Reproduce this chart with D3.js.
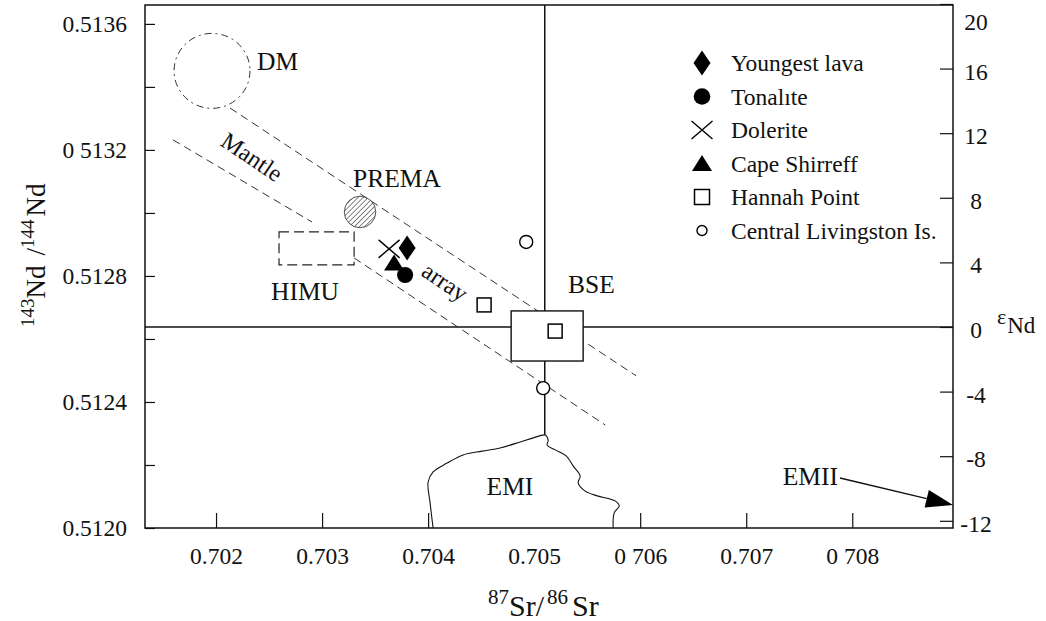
<!DOCTYPE html>
<html>
<head>
<meta charset="utf-8">
<script src="https://cdn.jsdelivr.net/npm/d3@7"></script>
<style>
  body { margin: 0; background: #fff; }
  svg, svg text { font-family: "Liberation Serif", "Times New Roman", "DejaVu Serif", serif; }
</style>
</head>
<body>
<svg id="chart" width="1046" height="621" font-family="Liberation Serif, Times New Roman, DejaVu Serif, serif"></svg>
<script>
// ---- data ----
const xTicks = [0.702, 0.703, 0.704, 0.705, 0.706, 0.707, 0.708];
const xTickLabels = ["0.702", "0.703", "0.704", "0.705", "0 706", "0.707", "0 708"];
const yTicks = [0.5120, 0.5124, 0.5128, 0.5132, 0.5136];
const yTickLabels = ["0.5120", "0.5124", "0.5128", "0 5132", "0.5136"];
const yMinorTicks = [0.5122, 0.5126, 0.5130, 0.5134];
const epsTicks = [-12, -8, -4, 0, 4, 8, 12, 16, 20];
const CHUR = 0.512638;
const bseSr = 0.7051;

const youngestLava = [[0.703802, 0.512889]];
const tonalite = [[0.703783, 0.512803]];
const dolerite = [[0.703632, 0.512886]];
const capeShirreff = [[0.703679, 0.512841]];
const hannahPoint = [[0.704528, 0.512708], [0.705198, 0.512625]];
const centralLivingston = [[0.704925, 0.512908], [0.705085, 0.512444]];

const legendNames = ["Youngest lava", "Tonalıte", "Dolerite", "Cape Shirreff", "Hannah Point", "Central Livingston Is."];
const legendSymbols = ["diamond", "dot", "cross", "triangle", "square", "ring"];

// mantle reservoirs
const dmCentre = [0.701962, 0.513451];
const dmRadius = [0.000358, 0.000119];
const premaCentre = [0.703358, 0.513003];
const premaRadius = 0.000050;
const himuBox = [[0.702594, 0.512835], [0.703302, 0.512940]];
const bseBox = [[0.704783, 0.512530], [0.705462, 0.512689]];
const arrayUpper = [[0.702132, 0.513333], [0.705962, 0.512483]];
const arrayLowerA = [[0.701594, 0.513232], [0.702906, 0.512971]];
const arrayLowerB = [[0.703302, 0.512857], [0.705670, 0.512327]];
const emiOutline = [
  [0.704047, 0.512000], [0.704019, 0.512079], [0.704000, 0.512146], [0.704047, 0.512178],
  [0.704179, 0.512206], [0.704330, 0.512232], [0.704509, 0.512244], [0.704679, 0.512254],
  [0.704868, 0.512273], [0.704991, 0.512286], [0.705104, 0.512295], [0.705132, 0.512279],
  [0.705123, 0.512263], [0.705198, 0.512248], [0.705302, 0.512229], [0.705368, 0.512197],
  [0.705434, 0.512165], [0.705415, 0.512143], [0.705481, 0.512117], [0.705594, 0.512102],
  [0.705764, 0.512086], [0.705802, 0.512070], [0.705755, 0.512048], [0.705745, 0.512000]
];
const emiiArrow = [[0.707884, 0.5121587], [0.70895, 0.5120730]];

const labels = [
  { text: "DM", at: [0.702386, 0.513454], anchor: "start" },
  { text: "PREMA", at: [0.703292, 0.5130823], anchor: "start" },
  { text: "HIMU", at: [0.702518, 0.5127237], anchor: "start" },
  { text: "BSE", at: [0.705319, 0.5127459], anchor: "start" },
  { text: "EMI", at: [0.704772, 0.5121047], anchor: "middle" },
  { text: "EMII", at: [0.707865, 0.5121365], anchor: "end" }
];
const slantLabels = [
  { text: "Mantle", at: [0.702339, 0.5131775] },
  { text: "array", at: [0.704159, 0.5127808] }
];

const FONT = "Liberation Serif, Times New Roman, DejaVu Serif, serif";

// ---- scales ----
const eps = v => (v / CHUR - 1) * 1e4;
const x = d3.scaleLinear().domain([0.70133, 0.70895]).range([145, 953]);
const y = d3.scaleLinear().domain([0.5120, 0.51366]).range([528, 5]);
const yEps = d3.scaleLinear().domain(y.domain().map(eps)).range(y.range());

const svg = d3.select("#chart");
const defs = svg.append("defs");
defs.append("pattern").attr("id", "hatch")
  .attr("patternUnits", "userSpaceOnUse").attr("width", 3.6).attr("height", 3.6)
  .attr("patternTransform", "rotate(45)")
  .append("line").attr("x1", 0).attr("y1", 0).attr("x2", 0).attr("y2", 3.6)
  .attr("stroke", "#222").attr("stroke-width", 1.1);

const [x0, x1] = x.range();
const [y0, y1] = y.range();

// reference lines
svg.append("line").attr("x1", x0).attr("x2", x1).attr("y1", y(CHUR)).attr("y2", y(CHUR))
  .attr("stroke", "#111").attr("stroke-width", 1.5);
svg.append("line").attr("x1", x(bseSr)).attr("x2", x(bseSr)).attr("y1", y1).attr("y2", y(0.512295))
  .attr("stroke", "#111").attr("stroke-width", 1.5);

// axes
const fmtX = d3.axisBottom(x).tickValues(xTicks).tickSize(-15).tickSizeOuter(0).tickPadding(19)
  .tickFormat((d, i) => xTickLabels[i]);
const axX = svg.append("g").attr("transform", `translate(0,${y0})`).call(fmtX);

const allY = yTicks.concat(yMinorTicks);
const fmtY = d3.axisLeft(y).tickValues(allY).tickSize(-10).tickSizeOuter(0).tickPadding(18)
  .tickFormat(d => { const i = yTicks.indexOf(d); return i >= 0 ? yTickLabels[i] : ""; });
const axY = svg.append("g").attr("transform", `translate(${x0},0)`).call(fmtY);

const fmtE = d3.axisRight(yEps).tickValues(epsTicks).tickSize(-13).tickSizeOuter(0).tickPadding(23)
  .tickFormat(d => d);
const axE = svg.append("g").attr("transform", `translate(${x1},0)`).call(fmtE);

[axX, axY, axE].forEach(a => {
  a.select(".domain").remove();
  a.attr("font-family", FONT).attr("font-size", 23.5);
  a.selectAll(".tick line").attr("stroke", "#111").attr("stroke-width", 1.2);
  a.selectAll(".tick text").attr("fill", "#111");
});
axE.selectAll(".tick text").attr("text-anchor", "middle").attr("dy", "0.45em");
axE.selectAll(".tick").filter(d => d === 20).select("text").attr("y", 0)
  .attr("transform", `translate(23,${19 - yEps(20)})`).attr("x", 0);

// mantle array band
const line = d3.line().x(d => x(d[0])).y(d => y(d[1]));
[arrayUpper, arrayLowerA, arrayLowerB].forEach(seg => {
  svg.append("path").attr("d", line(seg)).attr("fill", "none")
    .attr("stroke", "#333").attr("stroke-width", 1).attr("stroke-dasharray", "8,5");
});

// DM field
svg.append("ellipse")
  .attr("cx", x(dmCentre[0])).attr("cy", y(dmCentre[1]))
  .attr("rx", x(dmCentre[0] + dmRadius[0]) - x(dmCentre[0]))
  .attr("ry", y(dmCentre[1]) - y(dmCentre[1] + dmRadius[1]))
  .attr("fill", "none").attr("stroke", "#333").attr("stroke-width", 1)
  .attr("stroke-dasharray", "7,4,2,4");

// HIMU field
svg.append("rect")
  .attr("x", x(himuBox[0][0])).attr("y", y(himuBox[1][1]))
  .attr("width", x(himuBox[1][0]) - x(himuBox[0][0]))
  .attr("height", y(himuBox[0][1]) - y(himuBox[1][1]))
  .attr("fill", "none").attr("stroke", "#222").attr("stroke-width", 1.2)
  .attr("stroke-dasharray", "10,5");

// PREMA
svg.append("circle").attr("cx", x(premaCentre[0])).attr("cy", y(premaCentre[1]))
  .attr("r", y(premaCentre[1]) - y(premaCentre[1] + premaRadius))
  .attr("fill", "url(#hatch)").attr("stroke", "#555").attr("stroke-width", 1);

// EMI field
svg.append("path").attr("d", d3.line().x(d => x(d[0])).y(d => y(d[1])).curve(d3.curveCatmullRom)(emiOutline))
  .attr("fill", "#fff").attr("stroke", "#111").attr("stroke-width", 1.1);

// BSE box
svg.append("rect")
  .attr("x", x(bseBox[0][0])).attr("y", y(bseBox[1][1]))
  .attr("width", x(bseBox[1][0]) - x(bseBox[0][0]))
  .attr("height", y(bseBox[0][1]) - y(bseBox[1][1]))
  .attr("fill", "#fff").attr("stroke", "#111").attr("stroke-width", 1.4);

// frame
svg.append("rect").attr("x", x0).attr("y", y1).attr("width", x1 - x0).attr("height", y0 - y1)
  .attr("fill", "none").attr("stroke", "#111").attr("stroke-width", 1.5);

// EMII arrow
{
  const [a, b] = emiiArrow;
  const ax = x(a[0]), ay = y(a[1]), bx = x(b[0]), by = y(b[1]);
  const ang = Math.atan2(by - ay, bx - ax);
  const len = 27, hw = 9;
  const bxs = bx - len * Math.cos(ang), bys = by - len * Math.sin(ang);
  svg.append("line").attr("x1", ax).attr("y1", ay).attr("x2", bxs).attr("y2", bys)
    .attr("stroke", "#111").attr("stroke-width", 1.3);
  const px = -Math.sin(ang) * hw, py = Math.cos(ang) * hw;
  svg.append("path")
    .attr("d", `M${bx},${by}L${bxs + px},${bys + py}L${bxs - px},${bys - py}Z`)
    .attr("fill", "#000");
}

// symbols
function drawSymbol(g, type, cx, cy, s) {
  const k = s || 1;
  if (type === "diamond") {
    g.append("path").attr("d", `M${cx},${cy - 12.5 * k}L${cx + 8.5 * k},${cy}L${cx},${cy + 12.5 * k}L${cx - 8.5 * k},${cy}Z`)
      .attr("fill", "#000");
  } else if (type === "dot") {
    g.append("circle").attr("cx", cx).attr("cy", cy).attr("r", 8.3 * k).attr("fill", "#000");
  } else if (type === "cross") {
    g.append("path").attr("d", `M${cx - 10.5 * k},${cy - 9 * k}L${cx + 10.5 * k},${cy + 9 * k}M${cx - 10.5 * k},${cy + 9 * k}L${cx + 10.5 * k},${cy - 9 * k}`)
      .attr("stroke", "#000").attr("stroke-width", 1.4).attr("fill", "none");
  } else if (type === "triangle") {
    g.append("path").attr("d", `M${cx},${cy - 8.5 * k}L${cx + 10 * k},${cy + 7.5 * k}L${cx - 10 * k},${cy + 7.5 * k}Z`)
      .attr("fill", "#000");
  } else if (type === "square") {
    g.append("rect").attr("x", cx - 7.5 * k).attr("y", cy - 7.5 * k).attr("width", 15 * k).attr("height", 15 * k)
      .attr("fill", "#fff").attr("stroke", "#000").attr("stroke-width", 1.5);
  } else if (type === "ring") {
    g.append("circle").attr("cx", cx).attr("cy", cy).attr("r", 5 * k)
      .attr("fill", "#fff").attr("stroke", "#000").attr("stroke-width", 1.4);
  }
}

const pts = svg.append("g");
const series = [
  [capeShirreff, "triangle", 1],
  [dolerite, "cross", 1],
  [youngestLava, "diamond", 1],
  [tonalite, "dot", 0.97],
  [hannahPoint, "square", 0.93],
  [centralLivingston, "ring", 1.3]
];
series.forEach(([data, type, k]) => {
  data.forEach(d => drawSymbol(pts, type, x(d[0]), y(d[1]), k));
});

// region labels
labels.forEach(l => {
  svg.append("text").attr("x", x(l.at[0])).attr("y", y(l.at[1]))
    .attr("text-anchor", l.anchor).attr("font-size", 25.5).attr("fill", "#111").text(l.text);
});
slantLabels.forEach(l => {
  svg.append("text")
    .attr("transform", `translate(${x(l.at[0])},${y(l.at[1])}) rotate(34)`)
    .attr("text-anchor", "middle").attr("dominant-baseline", "central")
    .attr("font-size", 24).attr("fill", "#111").text(l.text);
});

// legend
const legend = svg.append("g");
legendNames.forEach((name, i) => {
  const ly = 63 + i * 33.5;
  drawSymbol(legend, legendSymbols[i], 702, ly, 1);
  legend.append("text").attr("x", 731).attr("y", ly).attr("dy", "0.35em")
    .attr("font-size", 23.5).attr("fill", "#111").text(name);
});

// axis titles
const tx = svg.append("text").attr("x", 488).attr("y", 616).attr("fill", "#111");
tx.append("tspan").attr("font-size", 21).attr("dy", -12).text("87");
tx.append("tspan").attr("font-size", 30).attr("dy", 12).text("Sr/");
tx.append("tspan").attr("font-size", 21).attr("dy", -12).attr("dx", 3).text("86");
tx.append("tspan").attr("font-size", 30).attr("dy", 12).attr("dx", 4).text("Sr");

const ty = svg.append("text").attr("transform", "translate(45,327) rotate(-90)").attr("fill", "#111");
ty.append("tspan").attr("font-size", 19).attr("dy", -11).text("143");
ty.append("tspan").attr("font-size", 27).attr("dy", 11).text("Nd");
ty.append("tspan").attr("font-size", 27).attr("dx", 10).text("/");
ty.append("tspan").attr("font-size", 19).attr("dy", -11).text("144");
ty.append("tspan").attr("font-size", 27).attr("dy", 11).attr("dx", 3).text("Nd");

const te = svg.append("text").attr("x", 997).attr("y", 333).attr("fill", "#111");
te.append("tspan").attr("font-size", 22).attr("dy", -9).text("ε");
te.append("tspan").attr("font-size", 23).attr("dy", 9).attr("dx", 1).text("Nd");

svg.selectAll("text").attr("font-family", FONT);
</script>
</body>
</html>
